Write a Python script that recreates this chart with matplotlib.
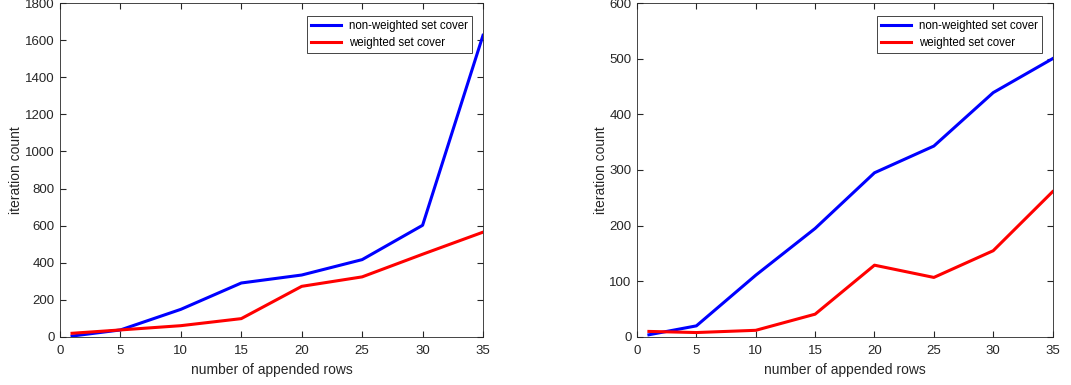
import numpy as np
import matplotlib
matplotlib.use('Agg')
import matplotlib.pyplot as plt

plt.rcParams['font.family'] = ['Liberation Sans', 'DejaVu Sans']

rows = [1, 5, 10, 15, 20, 25, 30, 35]

# left panel
left_nonweighted = [5, 38, 149, 291, 334, 417, 602, 1626]
left_weighted = [20, 38, 61, 99, 273, 324, 446, 565]

# right panel
right_nonweighted = [4, 20, 111, 195, 295, 343, 439, 500]
right_weighted = [10, 8, 12, 41, 129, 107, 155, 261]

labels = ['non-weighted set cover', 'weighted set cover']
xticks = [0, 5, 10, 15, 20, 25, 30, 35]

fig = plt.figure(figsize=(10.71, 3.85), dpi=100)
ax1 = fig.add_axes([0.056, 0.1247, 0.395, 0.8675])
ax2 = fig.add_axes([0.5948, 0.1247, 0.388, 0.8675])

def setup(ax, nw, w, ymax, ystep):
    ax.plot(rows, nw, color='#0000ff', lw=2.2, label=labels[0])
    ax.plot(rows, w, color='#ff0000', lw=2.2, label=labels[1])
    ax.set_xlim(0, 35)
    ax.set_ylim(0, ymax)
    ax.set_xticks(xticks)
    ax.set_yticks(np.arange(0, ymax + 1, ystep))
    ax.tick_params(direction='in', top=True, right=True, length=4,
                   labelsize=9.5, colors='#262626')
    ax.tick_params(axis='x', pad=6)
    ax.tick_params(axis='y', pad=4)
    for s in ax.spines.values():
        s.set_color('#262626')
        s.set_linewidth(0.6)
    ax.set_xlabel('number of appended rows', fontsize=10, color='#262626', labelpad=4)
    ax.set_ylabel('iteration count', fontsize=10, color='#262626', labelpad=1)
    leg = ax.legend(loc='upper right', bbox_to_anchor=(0.975, 0.962), fontsize=8.3,
                    fancybox=False, framealpha=1, edgecolor='#262626',
                    borderpad=0.35, labelspacing=0.45, handlelength=2.6,
                    handletextpad=0.7, borderaxespad=0)
    leg.get_frame().set_linewidth(0.6)

setup(ax1, left_nonweighted, left_weighted, 1800, 200)
setup(ax2, right_nonweighted, right_weighted, 600, 100)

fig.savefig('out.png', dpi=100)
